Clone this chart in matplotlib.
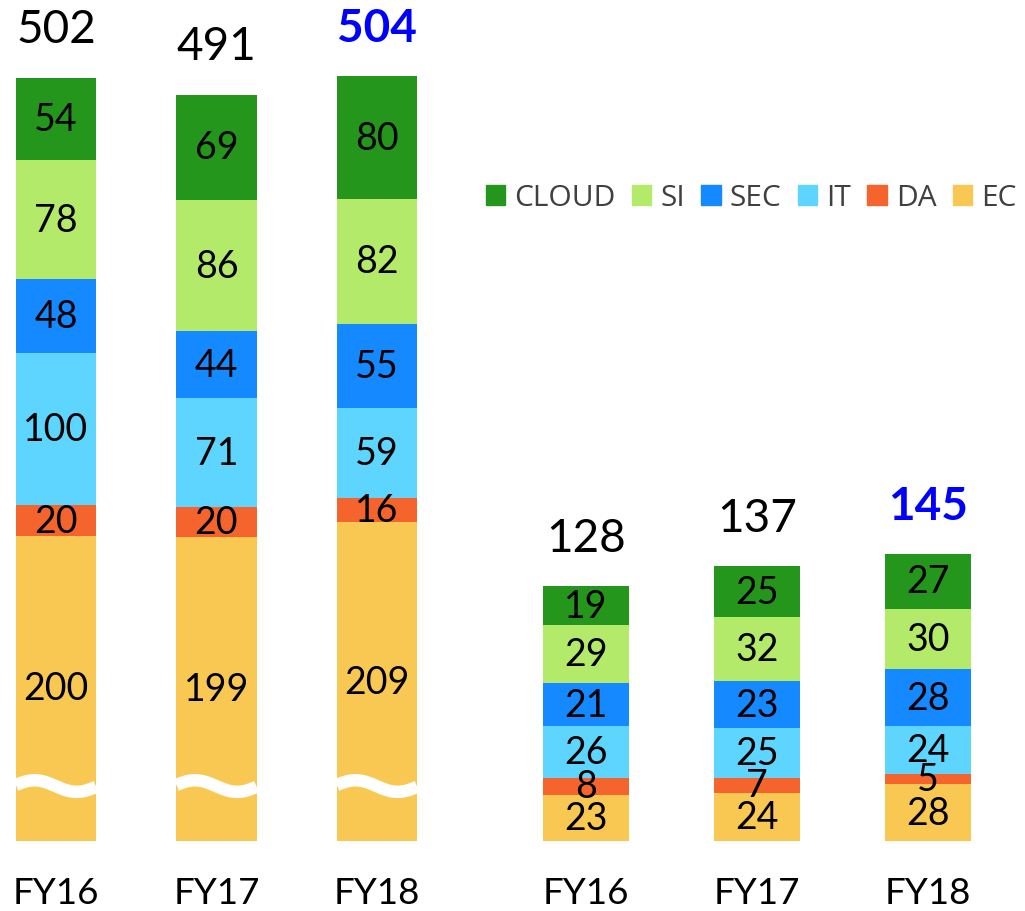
import numpy as np
import matplotlib.pyplot as plt
from matplotlib.patches import Patch

# ---- data ----
years = ['FY16', 'FY17', 'FY18']
names = ['EC', 'DA', 'IT', 'SEC', 'SI', 'CLOUD']      # bottom -> top
legend_order = ['CLOUD', 'SI', 'SEC', 'IT', 'DA', 'EC']
colors = {'CLOUD': '#24961C', 'SI': '#B3EA6A', 'SEC': '#1589FF',
          'IT': '#5DD5FF', 'DA': '#F4642C', 'EC': '#F9C852'}

big_ec = [200, 199, 209]
big_da = [20, 20, 16]
big_it = [100, 71, 59]
big_sec = [48, 44, 55]
big_si = [78, 86, 82]
big_cloud = [54, 69, 80]
big_total = [502, 491, 504]

small_ec = [23, 24, 28]
small_da = [8, 7, 5]
small_it = [26, 25, 24]
small_sec = [21, 23, 28]
small_si = [29, 32, 30]
small_cloud = [19, 25, 27]
small_total = [128, 137, 145]

num_font = 'Lato'
W, H = 1025, 912
fig = plt.figure(figsize=(W / 100, H / 100), dpi=100)

bot = (H - 842) / H
hgt = 842 / H


def draw_group(ax, series, totals, width, wave=False):
    x = np.arange(len(years))
    base = np.zeros(len(years))
    for name, vals in zip(names, series):
        vals = np.array(vals, dtype=float)
        ax.bar(x, vals, width, bottom=base, color=colors[name], linewidth=0)
        for xi, b, v in zip(x, base, vals):
            ax.text(xi, b + v / 2, str(int(v)), ha='center', va='center',
                    fontsize=27, family=num_font, color='black')
        base += vals
    for i, (xi, top, t) in enumerate(zip(x, base, totals)):
        last = i == len(years) - 1
        ax.annotate(str(t), (xi, top), xytext=(0, 35), textcoords='offset points',
                    ha='center', va='center', fontsize=33, family=num_font,
                    color='#0000FF' if last else 'black',
                    fontweight='bold' if last else 'normal')
    if wave:
        # axis break decoration inside the EC segment
        t = np.linspace(0, 1, 100)
        for xi in x:
            xs = xi - width / 2 + t * width
            ys = 36 + 3.8 * np.sin(2 * np.pi * (t * 0.95 + 0.03))
            ax.plot(xs, ys, color='white', lw=9, solid_capstyle='butt')
    ax.set_xticks(x)
    ax.set_xticklabels(years, fontsize=26.5, family=num_font)
    ax.tick_params(length=0, pad=25, left=False, labelleft=False)
    for s in ax.spines.values():
        s.set_visible(False)


# left group (large scale, broken EC)
ax1 = fig.add_axes([0, bot, 440 / W, hgt])
draw_group(ax1, [big_ec, big_da, big_it, big_sec, big_si, big_cloud],
           big_total, 0.5, wave=True)
ax1.set_xlim(-56 / 160.5, (440 - 56) / 160.5)
ax1.set_ylim(0, 842 / 1.526)

# right group
ax2 = fig.add_axes([470 / W, bot, 555 / W, hgt])
draw_group(ax2, [small_ec, small_da, small_it, small_sec, small_si, small_cloud],
           small_total, 0.503)
ax2.set_xlim(-(586 - 470) / 171, (1025 - 586) / 171)
ax2.set_ylim(0, 842 / 2.02)

handles = [Patch(color=colors[n], label=n) for n in legend_order]
fig.legend(handles=handles, loc='center', bbox_to_anchor=(751 / W, (H - 199) / H),
           ncol=6, frameon=False, prop={'family': 'Open Sans', 'size': 21.5},
           labelcolor='#404040', handlelength=0.65, handleheight=0.65,
           handletextpad=0.3, columnspacing=0.55)

fig.savefig('out.png', dpi=100)
